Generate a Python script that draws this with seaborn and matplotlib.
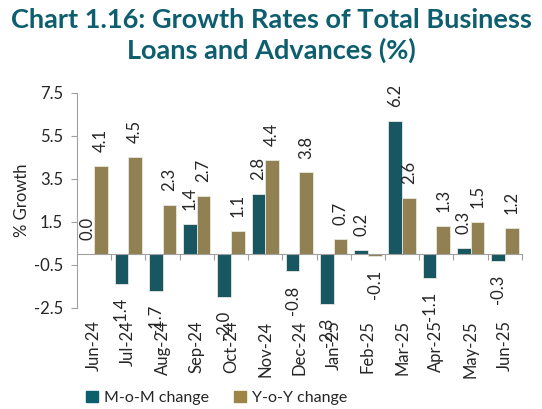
import pandas as pd
import matplotlib.pyplot as plt
import seaborn as sns

# Data
months = ['Jun-24', 'Jul-24', 'Aug-24', 'Sep-24', 'Oct-24', 'Nov-24', 'Dec-24',
          'Jan-25', 'Feb-25', 'Mar-25', 'Apr-25', 'May-25', 'Jun-25']
mom = [0.0, -1.4, -1.7, 1.4, -2.0, 2.8, -0.8, -2.3, 0.2, 6.2, -1.1, 0.3, -0.3]
yoy = [4.1, 4.5, 2.3, 2.7, 1.1, 4.4, 3.8, 0.7, -0.1, 2.6, 1.3, 1.5, 1.2]
series = ['M-o-M change', 'Y-o-Y change']
colors = ['#0C5F6D', '#9C8547']

df = pd.DataFrame({'month': months * 2,
                   'value': mom + yoy,
                   'series': [series[0]] * len(months) + [series[1]] * len(months)})

sns.set_style('white')
plt.rcParams['font.family'] = ['Lato', 'DejaVu Sans']
fs = 12

fig = plt.figure(figsize=(5.42, 4.09), dpi=100)
ax = fig.add_axes([0.142, 0.247, 0.821, 0.526])

sns.barplot(data=df, x='month', y='value', hue='series', palette=colors,
            width=0.8, edgecolor='#e8e8e0', linewidth=0.6, ax=ax, legend=False)

# Value labels, rotated
for cont in ax.containers:
    ax.bar_label(cont, fmt='%.1f', rotation=90, padding=10, fontsize=fs)

ax.set_ylim(-2.5, 7.5)
ax.set_xlim(-0.5, len(months) - 0.5)
ax.set_yticks([7.5, 5.5, 3.5, 1.5, -0.5, -2.5])
ax.set_yticklabels(['7.5', '5.5', '3.5', '1.5', '-0.5', '-2.5'])
ax.set_ylabel('% Growth', fontsize=fs, labelpad=3)
ax.set_xlabel('')
ax.tick_params(axis='y', length=4, direction='out', color='#a0a0a0', labelsize=fs, pad=6, left=True)

# x axis line at zero with ticks between categories
ax.spines['top'].set_visible(False)
ax.spines['right'].set_visible(False)
ax.spines['left'].set_color('#a0a0a0')
ax.spines['bottom'].set_position(('data', 0))
ax.spines['bottom'].set_color('#a0a0a0')
ax.set_xticks([i + 0.5 for i in range(len(months))])
ax.set_xticklabels([])
ax.tick_params(axis='x', length=4, direction='out', color='#a0a0a0', bottom=True)

# month labels at the bottom of the plot
sec = ax.secondary_xaxis(0)
sec.set_xticks(range(len(months)))
sec.set_xticklabels(months, rotation=90, fontsize=fs)
sec.spines['bottom'].set_visible(False)
sec.tick_params(length=0, pad=9)

# title
fig.text(0.5, 0.952, 'Chart 1.16: Growth Rates of Total Business', ha='center', va='center',
         fontsize=19.5, fontweight='bold', color='#0D5E6E')
fig.text(0.5, 0.878, 'Loans and Advances (%)', ha='center', va='center',
         fontsize=19.5, fontweight='bold', color='#0D5E6E')

handles = [plt.Rectangle((0, 0), 1, 1, color=c) for c in colors]
fig.legend(handles, series, loc='center', bbox_to_anchor=(0.4, 0.027), ncol=2,
           frameon=False, fontsize=11.5, handlelength=0.7, handleheight=0.7,
           handletextpad=0.4, columnspacing=1.6)

fig.savefig('out.png', dpi=100)
